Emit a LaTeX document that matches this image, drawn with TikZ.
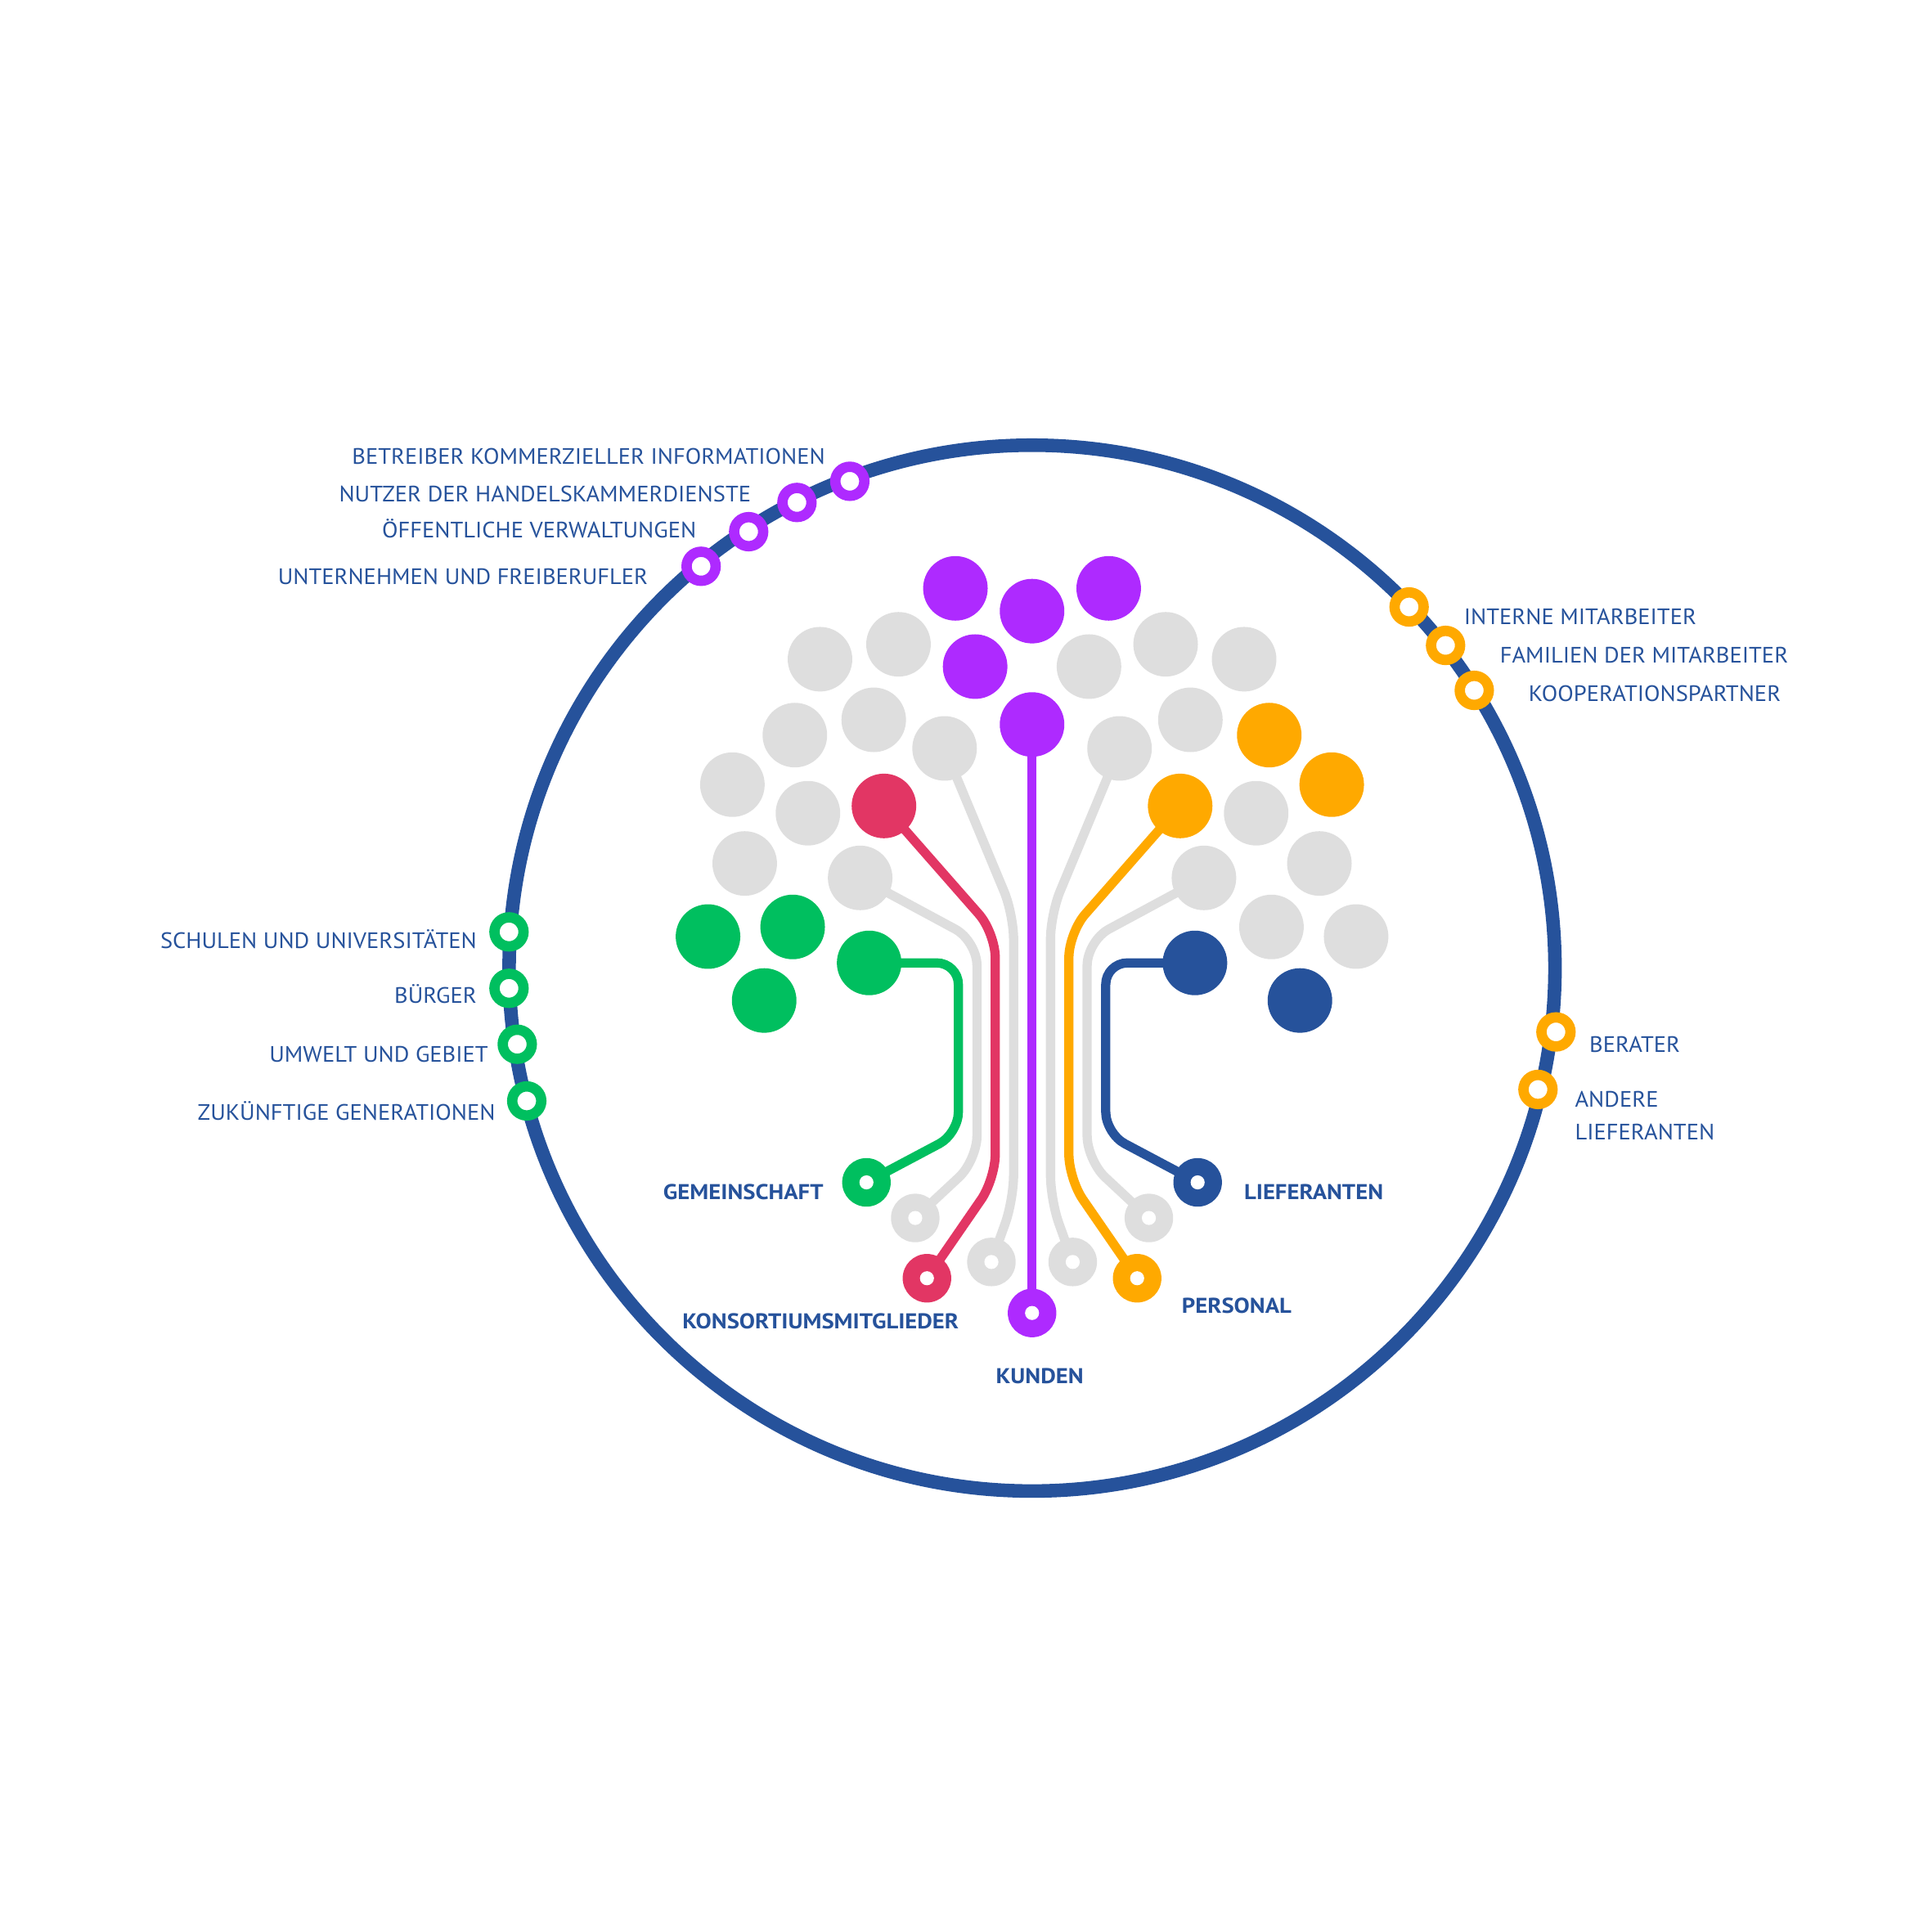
\documentclass[tikz,border=0pt]{standalone}
\usepackage{fontspec}
\setmainfont{PT Sans}
\newfontfamily\regf{PT Sans}[FakeStretch=1.045]
\newfontfamily\boldf{PT Sans}[FakeStretch=1.095]
\usetikzlibrary{backgrounds}
\definecolor{cblue}{HTML}{26529B}
\definecolor{cpurple}{HTML}{AE2AFF}
\definecolor{cred}{HTML}{E23664}
\definecolor{cgreen}{HTML}{00BF5F}
\definecolor{corange}{HTML}{FFA900}
\definecolor{cgray}{HTML}{DEDEDE}
\begin{document}
\begin{tikzpicture}[x=0.2mm,y=-0.2mm,
  leaf/.style={circle, inner sep=0, minimum size=10.48mm, fill=#1},
  endpt/.style={circle, inner sep=0, minimum size=7.88mm, fill=#1,
     path picture={\fill[white] (path picture bounding box.center) circle (1.14mm);}},
  stake/.style={circle, inner sep=0, minimum size=4.72mm, draw=#1, line width=1.68mm, fill=white},
  wire/.style={line width=1.5mm, draw=#1, rounded corners=4mm},
  lbl/.style={inner sep=0, text=cblue, font=\regf\fontsize{10.3}{14.9}\selectfont},
  blbl/.style={inner sep=0, text=cblue, font=\boldf\bfseries\fontsize{9.9}{12}\selectfont}]
\useasboundingbox (0,0) rectangle (1568,1568);

% outer circle
\node[draw=cblue, line width=2.2mm, circle, minimum size=169.76mm, inner sep=0] (rim) at (837.6,785.7) {};

% tree: centre
\node[leaf=cpurple] (pc1) at (837.6,496) {};
\node[leaf=cpurple] (pc2) at (837.6,588) {};
% right half
\node[leaf=cpurple] (r1) at (899.8,477.5) {};
\node[leaf=cgray] (r2) at (883.8,541) {};
\node[leaf=cgray] (r3) at (946,522.9) {};
\node[leaf=cgray] (r4) at (1009.7,535) {};
\node[leaf=cgray] (r5) at (908.6,607.4) {};
\node[leaf=cgray] (r6) at (966.1,584.2) {};
\node[leaf=corange] (r7) at (1030.1,596.6) {};
\node[leaf=corange] (r8) at (1080.8,636.8) {};
\node[leaf=corange] (r9) at (957.8,654.1) {};
\node[leaf=cgray] (r10) at (1019.5,660) {};
\node[leaf=cgray] (r11) at (977.1,712.5) {};
\node[leaf=cgray] (r12) at (1070.8,700.8) {};
\node[leaf=cgray] (r13) at (1031.9,752.3) {};
\node[leaf=cgray] (r14) at (1100.6,760.1) {};
\node[leaf=cblue] (r15) at (969.8,781.5) {};
\node[leaf=cblue] (r16) at (1055,812) {};
% left half
\node[leaf=cpurple] (l1) at (775.4,477.5) {};
\node[leaf=cpurple] (l2) at (791.4,541) {};
\node[leaf=cgray] (l3) at (729.2,522.9) {};
\node[leaf=cgray] (l4) at (665.5,535) {};
\node[leaf=cgray] (l5) at (766.6,607.4) {};
\node[leaf=cgray] (l6) at (709.1,584.2) {};
\node[leaf=cgray] (l7) at (645.1,596.6) {};
\node[leaf=cgray] (l8) at (594.4,636.8) {};
\node[leaf=cred] (l9) at (717.4,654.1) {};
\node[leaf=cgray] (l10) at (655.7,660) {};
\node[leaf=cgray] (l11) at (698.1,712.5) {};
\node[leaf=cgray] (l12) at (604.4,700.8) {};
\node[leaf=cgreen] (l13) at (643.3,752.3) {};
\node[leaf=cgreen] (l14) at (574.6,760.1) {};
\node[leaf=cgreen] (l15) at (705.4,781.5) {};
\node[leaf=cgreen] (l16) at (620.2,812) {};

% end points
\node[endpt=cgreen] (e1) at (703.2,959.6) {};
\node[endpt=cgray] (e2) at (742.8,988.5) {};
\node[endpt=cred] (e3) at (752.3,1037.4) {};
\node[endpt=cgray] (e4) at (804.6,1024.2) {};
\node[endpt=cpurple] (e5) at (837.6,1065.6) {};
\node[endpt=cgray] (e6) at (870.6,1024.2) {};
\node[endpt=corange] (e7) at (922.9,1037.4) {};
\node[endpt=cgray] (e8) at (932.4,988.5) {};
\node[endpt=cblue] (e9) at (972,959.6) {};

% bend points
\coordinate (a1) at (777.8,781.5); \coordinate (b1) at (777.8,920);
\coordinate (a2) at (792.9,763.6); \coordinate (b2) at (792.9,941.8);
\coordinate (a3) at (807.7,757);   \coordinate (b3) at (807.7,957);
\coordinate (a4) at (822.6,742);   \coordinate (b4) at (822.6,974);
\coordinate (a6) at (852.6,742);   \coordinate (b6) at (852.6,974);
\coordinate (a7) at (867.5,757);   \coordinate (b7) at (867.5,957);
\coordinate (a8) at (882.3,763.6); \coordinate (b8) at (882.3,941.8);
\coordinate (a9) at (897.4,781.5); \coordinate (b9) at (897.4,920);

\begin{pgfonlayer}{background}
\draw[wire=cgreen, rounded corners=3.5mm] (l15.center) -- (a1) -- (b1) -- (e1.center);
\draw[wire=cgray] (l11.center) -- (a2) -- (b2) -- (e2.center);
\draw[wire=cred] (l9.center) -- (a3) -- (b3) -- (e3.center);
\draw[wire=cgray] (l5.center) -- (a4) -- (b4) -- (e4.center);
\draw[wire=cpurple, line width=1.42mm] (pc2.center) -- (e5.center);
\draw[wire=cgray] (r5.center) -- (a6) -- (b6) -- (e6.center);
\draw[wire=corange] (r9.center) -- (a7) -- (b7) -- (e7.center);
\draw[wire=cgray] (r11.center) -- (a8) -- (b8) -- (e8.center);
\draw[wire=cblue, rounded corners=3.5mm] (r15.center) -- (a9) -- (b9) -- (e9.center);
\end{pgfonlayer}

% stakeholder rings on rim
\node[stake=cpurple] (s1) at (689.7,390.6) {};
\node[stake=cpurple] (s2) at (646.8,407.8) {};
\node[stake=cpurple] (s3) at (607.6,431.5) {};
\node[stake=cpurple] (s4) at (569,459.6) {};
\node[stake=corange] (s5) at (1143.6,492.6) {};
\node[stake=corange] (s6) at (1173.2,523.8) {};
\node[stake=corange] (s7) at (1196.5,560.3) {};
\node[stake=corange] (s8) at (1262.8,837.5) {};
\node[stake=corange] (s9) at (1248.2,884.2) {};
\node[stake=cgreen] (s10) at (413.1,756.3) {};
\node[stake=cgreen] (s11) at (413.1,802.1) {};
\node[stake=cgreen] (s12) at (419.8,847.5) {};
\node[stake=cgreen] (s13) at (427.5,893.5) {};

% labels
\node[lbl, anchor=base east] (t1) at (670,376.6) {BETREIBER KOMMERZIELLER INFORMATIONEN};
\node[lbl, anchor=base east] (t2) at (609.8,407.2) {NUTZER DER HANDELSKAMMERDIENSTE};
\node[lbl, anchor=base east] (t3) at (565.4,436.4) {ÖFFENTLICHE VERWALTUNGEN};
\node[lbl, anchor=base east] (t4) at (526.2,474.2) {UNTERNEHMEN UND FREIBERUFLER};
\node[lbl, anchor=base west] (t5) at (1187.8,506.7) {INTERNE MITARBEITER};
\node[lbl, anchor=base west] (t6) at (1217,538.2) {FAMILIEN DER MITARBEITER};
\node[lbl, anchor=base west] (t7) at (1240.3,569.4) {KOOPERATIONSPARTNER};
\node[lbl, anchor=base west] (t8) at (1289.6,853.7) {BERATER};
\node[lbl, anchor=base west, align=left] (t9) at (1277.9,925) {ANDERE\\LIEFERANTEN};
\node[lbl, anchor=base east] (t10) at (387.2,769.6) {SCHULEN UND UNIVERSITÄTEN};
\node[lbl, anchor=base east] (t11) at (387.2,814.3) {BÜRGER};
\node[lbl, anchor=base east] (t12) at (396.5,862.3) {UMWELT UND GEBIET};
\node[lbl, anchor=base east] (t13) at (402.3,908.8) {ZUKÜNFTIGE GENERATIONEN};

\node[blbl, anchor=base west] (k1) at (538,973.6) {GEMEINSCHAFT};
\node[blbl, anchor=base west] (k2) at (1009.4,973.6) {LIEFERANTEN};
\node[blbl, anchor=base west] (k3) at (553.6,1078.1) {KONSORTIUMSMITGLIEDER};
\node[blbl, anchor=base west] (k4) at (958.8,1065.9) {PERSONAL};
\node[blbl, anchor=base west] (k5) at (808,1123) {KUNDEN};
\end{tikzpicture}
\end{document}
